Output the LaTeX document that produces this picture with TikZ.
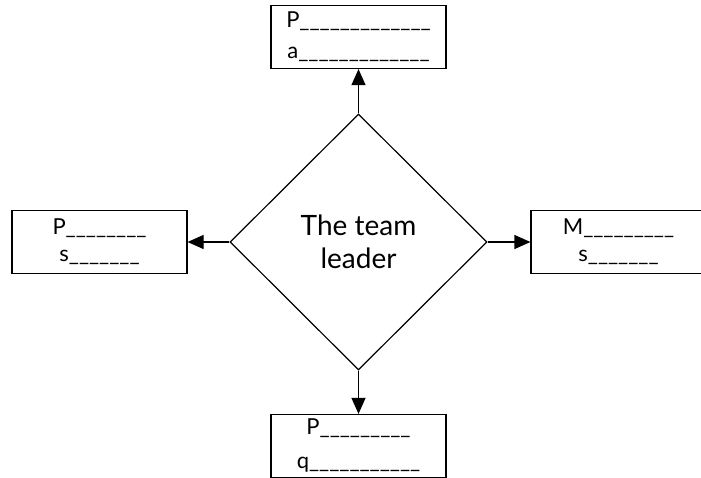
\documentclass[tikz,border=0pt]{standalone}
\usepackage{fontspec}
\setmainfont{Lato}
\usepackage{tikz}
\usetikzlibrary{arrows.meta}
\usetikzlibrary{shapes.geometric}

\begin{document}
\begin{tikzpicture}[x=1pt,y=-1pt,
		card/.style={draw,line width=1.2pt,minimum width=175pt,minimum height=63pt,inner sep=0pt,align=center,font=\fontsize{22}{27}\selectfont},
		link/.style={line width=1.2pt,-{Triangle[length=16pt,width=14pt]}}]
			\useasboundingbox (0,0) rectangle (701,478);
			\node[draw,diamond,line width=1.2pt,minimum width=257pt,minimum height=256pt,inner sep=0pt,align=center,font=\fontsize{28}{33}\selectfont] (leader) at (358.5,242) {The team\\leader};
			\node[card] (top) at (358.5,37) {P\_\_\_\_\_\_\_\_\_\_\_\_\_\\[4pt]a\_\_\_\_\_\_\_\_\_\_\_\_\_};
			\node[card] (left) at (99.5,242) {P\_\_\_\_\_\_\_\_\\s\_\_\_\_\_\_\_};
			\node[card] (right) at (618.5,242) {M\_\_\_\_\_\_\_\_\_\\s\_\_\_\_\_\_\_};
			\node[card] (bottom) at (358.5,446) {P\_\_\_\_\_\_\_\_\_\\[7pt]q\_\_\_\_\_\_\_\_\_\_\_};
			\draw[link] (leader.north) -- (top.south);
			\draw[link] (leader.west) -- (left.east);
			\draw[link] (leader.east) -- (right.west);
			\draw[link] (leader.south) -- (bottom.north);
		\end{tikzpicture}
\end{document}
